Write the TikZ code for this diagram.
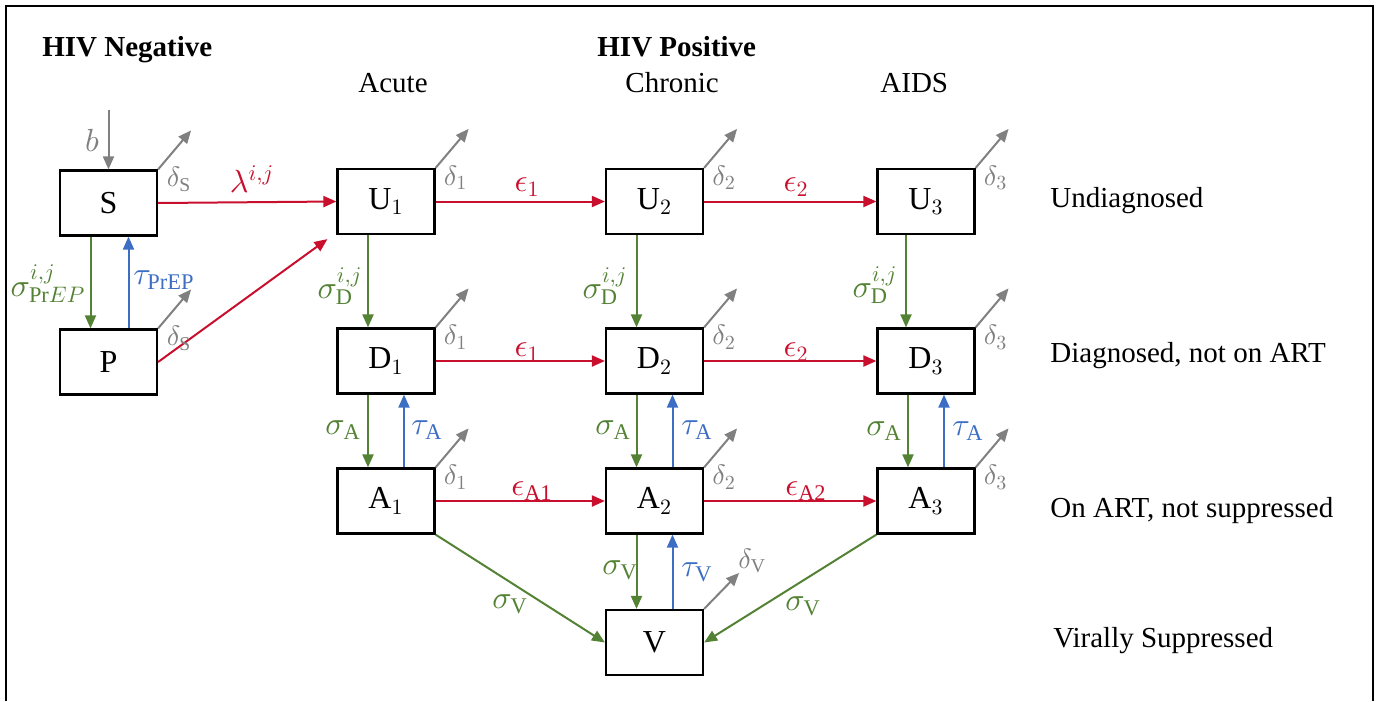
\documentclass[tikz,border=0pt]{standalone}
\usepackage{fontspec}
\setmainfont{Liberation Serif}
\DeclareFontShape{OML}{cmm}{m}{it}{<->cmmi10}{}
\usetikzlibrary{arrows.meta}
\definecolor{cred}{RGB}{200,16,46}
\definecolor{cgreen}{RGB}{84,130,53}
\definecolor{cblue}{RGB}{60,110,196}
\definecolor{cgray}{RGB}{128,128,128}
\begin{document}
\begin{tikzpicture}[x=0.5pt,y=-0.5pt,
  box/.style={draw, line width=1.1pt, minimum width=48.5pt, minimum height=32.5pt, inner sep=0pt, font=\fontsize{16}{18}\selectfont},
  flow/.style={line width=1pt, -{Triangle[length=6.5pt,width=5.5pt]}},
  inf/.style={flow, color=cred},
  adv/.style={flow, color=cgreen},
  back/.style={flow, color=cblue},
  dth/.style={flow, color=cgray},
  lbl/.style={inner sep=0pt, font=\fontsize{16}{18}\selectfont},
  dl/.style={inner sep=0pt, text=cgray, font=\fontsize{14}{16}\selectfont},
  hdr/.style={inner sep=0pt, anchor=base west, font=\fontsize{14.5}{17}\selectfont},
]
\useasboundingbox (0,0) rectangle (1380,701);
\draw[line width=1pt] (6,701) -- (6,6) -- (1373,6) -- (1373,701);

% headers
\node[hdr, font=\fontsize{14.5}{17}\selectfont\bfseries] (hneg) at (42,57) {HIV Negative};
\node[hdr, font=\fontsize{14.5}{17}\selectfont\bfseries] (hpos) at (597,57) {HIV Positive};
\node[hdr] (hac) at (358,92) {Acute};
\node[hdr] (hch) at (625,92) {Chronic};
\node[hdr] (hai) at (880,92) {AIDS};

% row labels
\node[hdr] (r1) at (1050,207) {Undiagnosed};
\node[hdr] (r2) at (1050,362) {Diagnosed, not on ART};
\node[hdr] (r3) at (1050,517) {On ART, not suppressed};
\node[hdr] (r4) at (1053,647) {Virally Suppressed};

% boxes
\node[box] (S) at (108.5,203) {S};
\node[box] (P) at (108.5,362) {P};
\node[box] (U1) at (386,201.5) {U$_1$};
\node[box] (U2) at (654.5,201.5) {U$_2$};
\node[box] (U3) at (926,201.5) {U$_3$};
\node[box] (D1) at (386,361) {D$_1$};
\node[box] (D2) at (654.5,361) {D$_2$};
\node[box] (D3) at (926,361) {D$_3$};
\node[box] (A1) at (386,501) {A$_1$};
\node[box] (A2) at (654.5,501) {A$_2$};
\node[box] (A3) at (926,501) {A$_3$};
\node[box] (V) at (654.5,642.5) {V};

% births
\coordinate (bsrc) at (108.5,110);
\draw[dth] (bsrc) -- (S.north);
\node[lbl, text=cgray] (lb) at (92,140) {$b$};

% infection
\draw[inf] (S.east) -- (U1.west);
\node[lbl, text=cred] (llam) at (252,179) {$\lambda^{i,j}$};
\draw[inf] (P.east) -- ([xshift=-4.5pt,yshift=-2pt]U1.south west);

% PrEP
\draw[adv] ([xshift=-9pt]S.south) -- ([xshift=-9pt]P.north);
\draw[back] ([xshift=10pt]P.north) -- ([xshift=10pt]S.south);
\node[lbl, text=cgreen] (lsp) at (48,284) {$\sigma^{i,j}_{\mathrm{Pr}EP}$};
\node[lbl, text=cblue] (ltp) at (164,280) {$\tau_{\mathrm{PrEP}}$};

% progression
\draw[inf] (U1.east) -- (U2.west);
\draw[inf] (U2.east) -- (U3.west);
\draw[inf] (D1.east) -- (D2.west);
\draw[inf] (D2.east) -- (D3.west);
\draw[inf] (A1.east) -- (A2.west);
\draw[inf] (A2.east) -- (A3.west);
\node[lbl, text=cred] (le1) at (527,187) {$\epsilon_1$};
\node[lbl, text=cred] (le2) at (796,187) {$\epsilon_2$};
\node[lbl, text=cred] (le3) at (527,352) {$\epsilon_1$};
\node[lbl, text=cred] (le4) at (796,352) {$\epsilon_2$};
\node[lbl, text=cred] (le5) at (532,491) {$\epsilon_{\mathrm{A1}}$};
\node[lbl, text=cred] (le6) at (806,491) {$\epsilon_{\mathrm{A2}}$};

% diagnosis
\draw[adv] ([xshift=-9pt]U1.south) -- ([xshift=-9pt]D1.north);
\draw[adv] ([xshift=-9pt]U2.south) -- ([xshift=-9pt]D2.north);
\draw[adv] ([xshift=-10pt]U3.south) -- ([xshift=-10pt]D3.north);
\node[lbl, text=cgreen] (ld1) at (340,286) {$\sigma^{i,j}_{\mathrm{D}}$};
\node[lbl, text=cgreen] (ld2) at (605,286) {$\sigma^{i,j}_{\mathrm{D}}$};
\node[lbl, text=cgreen] (ld3) at (875,285) {$\sigma^{i,j}_{\mathrm{D}}$};

% ART
\foreach \c in {1,2,3}{
  \draw[adv] ([xshift=-9pt]D\c.south) -- ([xshift=-9pt]A\c.north);
  \draw[back] ([xshift=9pt]A\c.north) -- ([xshift=9pt]D\c.south);
}
\node[lbl, text=cgreen] (la1) at (343,430) {$\sigma_{\mathrm{A}}$};
\node[lbl, text=cblue] (lt1) at (427,430) {$\tau_{\mathrm{A}}$};
\node[lbl, text=cgreen] (la2) at (613,430) {$\sigma_{\mathrm{A}}$};
\node[lbl, text=cblue] (lt2) at (697,430) {$\tau_{\mathrm{A}}$};
\node[lbl, text=cgreen] (la3) at (884,431) {$\sigma_{\mathrm{A}}$};
\node[lbl, text=cblue] (lt3) at (968,431) {$\tau_{\mathrm{A}}$};

% suppression
\draw[adv] (A1.south east) -- (V.west);
\draw[adv] (A3.south west) -- (V.east);
\draw[adv] ([xshift=-9pt]A2.south) -- ([xshift=-9pt]V.north);
\draw[back] ([xshift=9pt]V.north) -- ([xshift=9pt]A2.south);
\node[lbl, text=cgreen] (lv1) at (510,604) {$\sigma_{\mathrm{V}}$};
\node[lbl, text=cgreen] (lv2) at (803,606) {$\sigma_{\mathrm{V}}$};
\node[lbl, text=cgreen] (lv3) at (620,570) {$\sigma_{\mathrm{V}}$};
\node[lbl, text=cblue] (ltv) at (697,572) {$\tau_{\mathrm{V}}$};

% deaths
\draw[dth] (S.north east) -- ++(33,-39);
\node[dl] at ([xshift=10.5pt,yshift=-5pt]S.north east) {$\delta_{\mathrm{S}}$};
\draw[dth] (P.north east) -- ++(33,-39);
\node[dl] at ([xshift=10.5pt,yshift=-5pt]P.north east) {$\delta_{\mathrm{S}}$};
\foreach \c in {1,2,3}{
  \foreach \r in {U,D,A}{
    \draw[dth] (\r\c.north east) -- ++(33,-39);
    \node[dl] at ([xshift=10pt,yshift=-5pt]\r\c.north east) {$\delta_{\c}$};
  }
}
\draw[dth] (V.north east) -- ++(35,-36);
\node[dl] at ([xshift=24pt,yshift=24pt]V.north east) {$\delta_{\mathrm{V}}$};
\end{tikzpicture}
\end{document}
